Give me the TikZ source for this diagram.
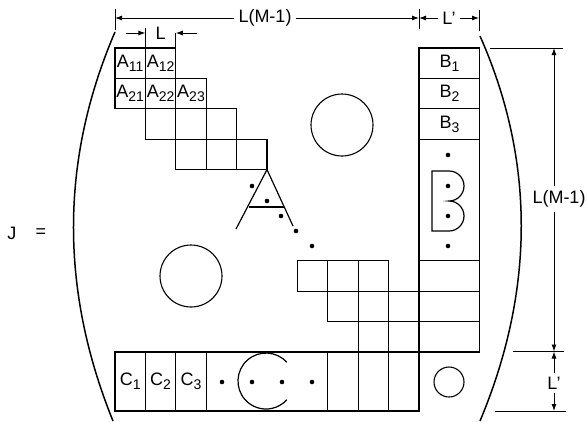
\documentclass[tikz,border=0pt]{standalone}
\usepackage{fontspec}
\setmainfont{Liberation Sans}
\usetikzlibrary{arrows.meta, positioning}
\newcommand{\lblfont}{\fontsize{18}{20}\selectfont}
\newcommand{\ix}[2]{#1\lower4pt\hbox{\fontsize{14}{14}\selectfont #2}}
\tikzset{
	cell/.style={draw, line width=1.2pt, minimum width=30.4pt, minimum height=30.4pt, inner sep=0pt, outer sep=0pt, anchor=north west, font=\lblfont},
	hole/.style={draw, circle, line width=1.1pt, inner sep=0pt},
	dot/.style={circle, fill, inner sep=0pt, minimum size=4.6pt},
	dimlbl/.style={font=\lblfont, inner sep=4pt},
	dimline/.style={line width=0.9pt},
	dimarr/.style={-{Latex[length=7pt, width=5pt]}, line width=0.9pt},
	paren/.style={line width=1.5pt},
}

\begin{document}
\begin{tikzpicture}[x=1pt, y=-1pt]
	\useasboundingbox (0,0) rectangle (587,421);
	\def\u{30.4}

	% J =
	\node[dimlbl] (jname) at (12,233) {J};
	\node[dimlbl] (jeq) at (41,233) {=};

	% A blocks, upper staircase
	\node[cell] (a11) at (115,48) {\ix{A}{11}};
	\node[cell] (a12) at (145.4,48) {\ix{A}{12}};
	\node[cell] (a21) at (115,78.4) {\ix{A}{21}};
	\node[cell] (a22) at (145.4,78.4) {\ix{A}{22}};
	\node[cell] (a23) at (175.8,78.4) {\ix{A}{23}};
	\foreach \cc/\rr in {1/2, 2/2, 3/2, 2/3, 3/3, 4/3, 6/7, 7/7, 8/7, 7/8, 8/8, 9/8, 8/9, 9/9}
		\node[cell] (g-\cc-\rr) at ({115+\cc*\u},{48+\rr*\u}) {};

	% B column
	\node[cell, minimum width=60.8pt] (b1) at (419,48) {\ix{B}{1}};
	\node[cell, minimum width=60.8pt] (b2) at (419,78.4) {\ix{B}{2}};
	\node[cell, minimum width=60.8pt] (b3) at (419,108.8) {\ix{B}{3}};
	\node[cell, minimum width=60.8pt, minimum height=121.6pt] (bmid) at (419,139.2) {};
	\foreach \rr in {7,8,9}
		\node[cell, minimum width=60.8pt] (b-\rr) at (419,{48+\rr*\u}) {};

	% C row
	\foreach \cc/\k in {0/1, 1/2, 2/3}
		\node[cell, minimum height=59pt] (c\k) at ({115+\cc*\u},352) {\ix{C}{\k}};
	\node[cell, minimum width=121.6pt, minimum height=59pt] (cmid) at (206.2,352) {};
	\foreach \cc in {7,8,9}
		\node[cell, minimum height=59pt] (cr-\cc) at ({115+\cc*\u},352) {};

	% holes
	\node[hole, minimum size=62pt] (holetop) at (342,125) {};
	\node[hole, minimum size=62pt] (holeleft) at (191,276) {};
	\node[hole, minimum size=30pt] (holesmall) at (449,382) {};

	% big A and its dots
	\draw[line width=1.2pt] (236,229) -- (g-4-3.south east) -- (293,226);
	\draw[line width=1.2pt] (249,207) -- (284,207);
	\foreach \px/\py [count=\i] in {252/186, 267/201, 281/216, 296/231, 312/246}
		\node[dot] (ad\i) at (\px,\py) {};

	% big B and its dots
	\draw[line width=1.2pt] (449,171) -- (432,171) -- (432,231) -- (449,231)
		arc[start angle=-90, end angle=90, radius=15pt]
		arc[start angle=-90, end angle=90, radius=15pt];
	\foreach \py [count=\i] in {155, 186, 216, 246}
		\node[dot] (bd\i) at (448,\py) {};

	% big C and its dots
	\draw[line width=1.2pt] (286.8,362.3) arc[start angle=42, end angle=318, radius=28pt];
	\foreach \px [count=\i] in {222, 252, 282, 312}
		\node[dot] (cd\i) at (\px,382) {};

	% brackets
	\draw[paren] (115,32) .. controls (60,160) and (60,290) .. (113,421);
	\draw[paren] (480,36) .. controls (535,160) and (535,290) .. (480,421);

	% top dimensions
	\coordinate (t0) at (115,18);
	\coordinate (t1) at (419,18);
	\coordinate (t2) at (479,18);
	\draw[dimline] (115,9) -- (115,30);
	\draw[dimline] (419,9) -- (419,29);
	\draw[dimline] (479,10) -- (479,31);
	\node[dimlbl] (lmtop) at (265,18) {L(M-1)};
	\draw[dimarr] (lmtop.west) -- (t0);
	\draw[dimarr] (lmtop.east) -- (t1);
	\node[dimlbl] (lptop) at (449,18) {L'};
	\draw[dimarr] (lptop.west) -- (t1);
	\draw[dimarr] (lptop.east) -- (t2);

	% cell width
	\coordinate (s0) at (145.4,33);
	\coordinate (s1) at (175.8,33);
	\draw[dimline] (a11.north east) -- ++(0,-20);
	\draw[dimline] (a12.north east) -- ++(0,-15);
	\node[dimlbl] (lcell) at (160.6,33) {L};
	\draw[dimarr] ([xshift=-19pt]s0) -- (s0);
	\draw[dimarr] ([xshift=21pt]s1) -- (s1);

	% right dimensions
	\coordinate (v0) at (554,48);
	\coordinate (v1) at (554,351.5);
	\coordinate (v2) at (554,411);
	\draw[dimline] (490,48) -- (563,48);
	\draw[dimline] (513,351.5) -- (564,351.5);
	\draw[dimline] (495,411) -- (566,411);
	\node[dimlbl] (lmright) at (559,199) {L(M-1)};
	\draw[dimarr] (lmright.north -| v0) -- (v0);
	\draw[dimarr] (lmright.south -| v0) -- (v1);
	\node[dimlbl] (lpright) at (554,383) {L'};
	\draw[dimarr] (lpright.north) -- (v1);
	\draw[dimarr] (lpright.south) -- (v2);
\end{tikzpicture}
\end{document}
